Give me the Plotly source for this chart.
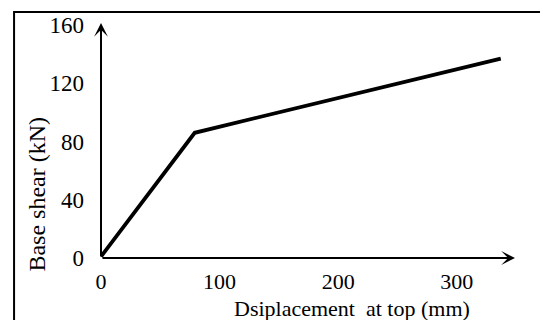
import plotly.graph_objects as go

# Data
displacement = [0, 79, 337]          # mm
base_shear = [1, 86, 137]            # kN
x_ticks = [0, 100, 200, 300]
y_ticks = [0, 40, 80, 120, 160]
x_title = "Dsiplacement\u00a0 at top (mm)"
y_title = "Base shear (kN)"

X_MAX = 349
Y_MAX = 161.4

FONT = "Liberation Serif"

fig = go.Figure()
fig.add_trace(go.Scatter(
    x=displacement, y=base_shear, mode="lines",
    line=dict(color="black", width=3.8),
    hoverinfo="skip", showlegend=False,
))

# axis lines with arrowheads
fig.add_annotation(x=X_MAX, y=0, ax=0, ay=0, xref="x", yref="y", axref="x", ayref="y",
                   showarrow=True, arrowhead=3, arrowwidth=2, arrowsize=1.15,
                   arrowcolor="black", text="")
fig.add_annotation(x=0, y=Y_MAX, ax=0, ay=0, xref="x", yref="y", axref="x", ayref="y",
                   showarrow=True, arrowhead=3, arrowwidth=2, arrowsize=1.15,
                   arrowcolor="black", text="")

# axis titles
fig.add_annotation(x=0.606, y=-0.213, xref="paper", yref="paper", text=x_title,
                   showarrow=False, font=dict(family=FONT, size=22, color="black"),
                   xanchor="center", yanchor="middle")
fig.add_annotation(x=-0.1546, y=0.274, xref="paper", yref="paper", text=y_title,
                   textangle=-90, showarrow=False,
                   font=dict(family=FONT, size=24, color="black"),
                   xanchor="center", yanchor="middle")

# outer frame
fig.add_shape(type="rect", xref="paper", yref="paper", x0=-0.210, x1=1.3, y0=-0.5, y1=1.0468,
              line=dict(color="black", width=2), fillcolor="rgba(0,0,0,0)", layer="below")

fig.update_xaxes(range=[0, X_MAX], tickvals=x_ticks, ticktext=[str(v) for v in x_ticks],
                 showgrid=False, zeroline=False, showline=False, ticks="",
                 ticklabelstandoff=8,
                 tickfont=dict(family=FONT, size=22, color="black"))
fig.update_yaxes(range=[0, Y_MAX], tickvals=y_ticks, ticktext=[str(v) for v in y_ticks],
                 showgrid=False, zeroline=False, showline=False, ticks="",
                 ticklabelstandoff=16,
                 tickfont=dict(family=FONT, size=23, color="black"))

fig.update_layout(
    width=540, height=320,
    margin=dict(l=101, r=25, t=23, b=62),
    paper_bgcolor="white", plot_bgcolor="white",
    showlegend=False,
)

fig.write_html("out.html")
